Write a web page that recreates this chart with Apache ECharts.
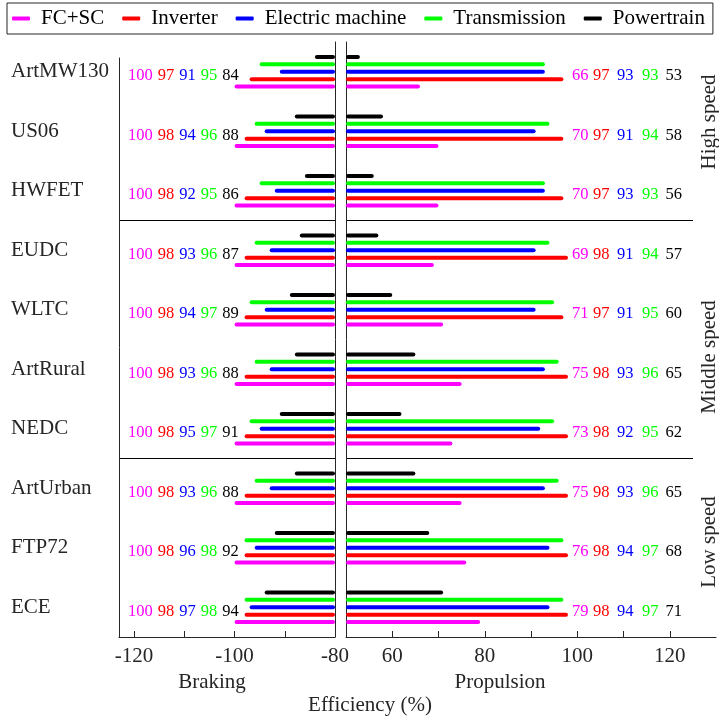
<!DOCTYPE html>
<html><head><meta charset="utf-8">
<script src="https://cdn.jsdelivr.net/npm/echarts@6/dist/echarts.min.js"></script>
<style>html,body{margin:0;padding:0;background:#fff}#c{width:719px;height:719px}</style>
</head><body><div id="c"></div>
<script>
// ---------- data ----------
const cycles = ['ArtMW130','US06','HWFET','EUDC','WLTC','ArtRural','NEDC','ArtUrban','FTP72','ECE'];
const components = ['FC+SC','Inverter','Electric machine','Transmission','Powertrain'];
const brakingFCSC     = [100,100,100,100,100,100,100,100,100,100];
const brakingInverter = [97,98,98,98,98,98,98,98,98,98];
const brakingEM       = [91,94,92,93,94,93,95,93,96,97];
const brakingTrans    = [95,96,95,96,97,96,97,96,98,98];
const brakingPT       = [84,88,86,87,89,88,91,88,92,94];
const propFCSC     = [66,70,70,69,71,75,73,75,76,79];
const propInverter = [97,97,97,98,97,98,98,98,98,98];
const propEM       = [93,91,93,91,91,93,92,93,94,94];
const propTrans    = [93,94,93,94,95,96,95,96,97,97];
const propPT       = [53,58,56,57,60,65,62,65,68,71];
const brakingTicks  = [80,90,100,110,120];
const brakingLabels = [80,100,120];
const propTicks  = [60,70,80,90,100,110,120];
const propLabels = [60,80,100,120];
const groupNames  = ['High speed','Middle speed','Low speed'];
const groupStarts = [0,3,7];

// ---------- styling ----------
const FONT = "'Liberation Serif','Times New Roman',serif";
const AX = '#262626';
const colors = ['#ff00ff','#ff0000','#0000ff','#00ff00','#000000'];
const braking = [brakingFCSC, brakingInverter, brakingEM, brakingTrans, brakingPT];
const prop = [propFCSC, propInverter, propEM, propTrans, propPT];
const drawOrder = [4,3,2,1,0]; // top to bottom inside a group
const keys = ['m','r','b','g','k'];

function richFor(gaps){
  const o = {};
  keys.forEach((k,i)=>{ o[k] = {color: colors[i], fontFamily: FONT, fontSize: 16.5, padding:[0,0,0,gaps[i]]}; });
  return o;
}
function numText(arrs){
  return (v, idx) => arrs.map((a,i)=>'{'+keys[i]+'|'+a[idx]+'}').join('');
}
const sepFn = (idx) => groupStarts.indexOf(idx) > 0;

const series = [];
drawOrder.forEach(ci=>{
  const base = {type:'bar', name: components[ci], barWidth:4, barGap:'85%', clip:true,
    itemStyle:{color: colors[ci], borderRadius:2}, silent:true};
  series.push(Object.assign({}, base, {xAxisIndex:0, yAxisIndex:0, data: braking[ci]}));
  series.push(Object.assign({}, base, {xAxisIndex:1, yAxisIndex:3, data: prop[ci]}));
});

const tickStyle = {show:true, inside:true, length:6, lineStyle:{color:AX, width:1}};
const labelStyle = {color:AX, fontFamily:FONT, fontSize:21, margin:9};
const rotText = (t, y) => ({type:'text', x:709, y:y, rotation:Math.PI/2,
  style:{text:t, fill:AX, fontFamily:FONT, fontSize:21, align:'center', verticalAlign:'middle', textAlign:'center', textVerticalAlign:'middle'}});

const option = {
  animation:false,
  backgroundColor:'#fff',
  legend:{
    left:7, top:3, padding:[5,8,5,5], itemGap:18, itemWidth:18, itemHeight:4, icon:'roundRect',
    borderColor:AX, borderWidth:1, backgroundColor:'#fff',
    textStyle:{fontFamily:FONT, fontSize:21, color:'#000', padding:[0,0,0,6]},
    data: components
  },
  grid:[
    {left:119, top:42, width:216, height:595, outerBoundsMode:'none'},
    {left:346, top:42, width:370, height:595, outerBoundsMode:'none'},
    {left:346, top:42, width:347, height:595, outerBoundsMode:'none'},
    {left:119, top:58, width:216, height:579, outerBoundsMode:'none'}
  ],
  xAxis:[
    {gridIndex:0, type:'value', inverse:true, min:80, max:123, interval:10,
     axisLine:{show:true, onZero:false, lineStyle:{color:AX, width:1}},
     axisTick:Object.assign({customValues:brakingTicks}, tickStyle),
     axisLabel:Object.assign({customValues:brakingLabels, formatter:v=> brakingLabels.indexOf(v)>=0 ? '-'+v : ''}, labelStyle),
     splitLine:{show:false},
     name:'Braking', nameLocation:'middle', nameGap:35,
     nameTextStyle:{color:AX, fontFamily:FONT, fontSize:21, padding:[0,30,0,0]}},
    {gridIndex:1, type:'value', min:50, max:130, interval:10,
     axisLine:{show:true, onZero:false, lineStyle:{color:AX, width:1}},
     axisTick:Object.assign({customValues:propTicks}, tickStyle),
     axisLabel:Object.assign({customValues:propLabels, formatter:v=> propLabels.indexOf(v)>=0 ? ''+v : ''}, labelStyle),
     splitLine:{show:false},
     name:'Propulsion', nameLocation:'middle', nameGap:35,
     nameTextStyle:{color:AX, fontFamily:FONT, fontSize:21, padding:[0,62,0,0]}},
    {gridIndex:2, type:'value', min:0, max:1, show:false},
    {gridIndex:3, type:'value', min:0, max:1, show:false}
  ],
  yAxis:[
    {gridIndex:0, type:'category', data:cycles, inverse:true, position:'left',
     axisLine:{show:false}, axisTick:{show:false},
     axisLabel:{color:AX, fontFamily:FONT, fontSize:21, margin:108, align:'left'},
     splitLine:{show:true, interval:sepFn, lineStyle:{color:'#000', width:1}}},
    {gridIndex:0, type:'category', data:cycles, inverse:true, position:'left',
     axisLine:{show:false}, axisTick:{show:false}, splitLine:{show:false},
     axisLabel:{inside:true, margin:9, padding:[8,0,0,0], formatter:numText(braking), rich:richFor([0,5,5,5,5])}},
    {gridIndex:0, type:'category', data:cycles, inverse:true, position:'right',
     axisLine:{show:true, onZero:false, lineStyle:{color:AX, width:1}}, axisTick:{show:false},
     axisLabel:{show:false}, splitLine:{show:false}},
    {gridIndex:1, type:'category', data:cycles, inverse:true, position:'left',
     axisLine:{show:true, onZero:false, lineStyle:{color:AX, width:1}}, axisTick:{show:false},
     axisLabel:{show:false}, splitLine:{show:false}},
    {gridIndex:1, type:'category', data:cycles, inverse:true, position:'right',
     axisLine:{show:false}, axisTick:{show:false}, splitLine:{show:false},
     axisLabel:{inside:true, margin:34, padding:[8,0,0,0], formatter:numText(prop), rich:richFor([0,4.5,7.5,8.5,7])}},
    {gridIndex:2, type:'category', data:cycles, inverse:true, position:'left',
     axisLine:{show:false}, axisTick:{show:false}, axisLabel:{show:false},
     splitLine:{show:true, interval:sepFn, lineStyle:{color:'#000', width:1}}},
    {gridIndex:3, type:'value', min:0, max:1, position:'left',
     axisLine:{show:true, onZero:false, lineStyle:{color:AX, width:1}}, axisTick:{show:false},
     axisLabel:{show:false}, splitLine:{show:false}}
  ],
  graphic:[
    {type:'text', x:370, y:705, style:{text:'Efficiency (%)', fill:AX, fontFamily:FONT, fontSize:21, align:'center', verticalAlign:'middle', textAlign:'center', textVerticalAlign:'middle'}},
    rotText(groupNames[0], 122),
    rotText(groupNames[1], 357),
    rotText(groupNames[2], 542)
  ],
  series: series
};
const chart = echarts.init(document.getElementById('c'), null, {renderer:'canvas'});
chart.setOption(option);
</script></body></html>
